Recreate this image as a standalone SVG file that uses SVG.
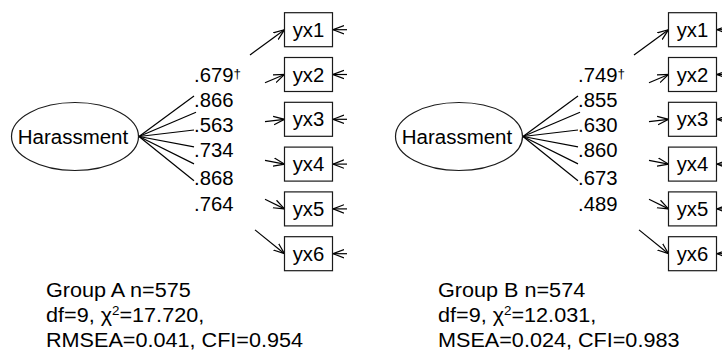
<svg xmlns="http://www.w3.org/2000/svg" width="722" height="354" viewBox="0 0 722 354">
  <style>
    .node-shape { fill: #fff; stroke: #1a1a1a; stroke-width: 1.2; }
    .edge { fill: none; stroke: #000; stroke-width: 1.2; }
    .arrow { fill: none; stroke: #000; stroke-width: 1.2; marker-end: url(#open-head); }
    .t { font-family: "Liberation Sans", Arial, Helvetica, sans-serif; font-size: 19.5px; fill: #000; }
    .mid { text-anchor: middle; }
    .fit { font-family: "Liberation Sans", Arial, Helvetica, sans-serif; font-size: 21px; fill: #000; }
    .sup { font-size: 13px; }
  </style>
  <defs>
    <marker id="open-head" viewBox="0 0 10 10" refX="10" refY="5" markerWidth="11" markerHeight="11" markerUnits="userSpaceOnUse" orient="auto">
      <path d="M0,1.2 L10,5 L0,8.8" fill="none" stroke="#000" stroke-width="1.1"/>
    </marker>
  </defs>

  <rect width="722" height="354" fill="#fff"/>

  <!-- Group A model -->
  <g id="groupA">
    <g id="connectorsA">
      <!-- loadings: factor to label gap, then label gap to indicator -->
      <line class="edge" x1="139" y1="136.5" x2="194" y2="96.1"/>
      <line class="arrow" x1="250" y1="55" x2="284.5" y2="29.7"/>
      <line class="edge" x1="139" y1="136.5" x2="196" y2="112.2"/>
      <line class="arrow" x1="265" y1="82.8" x2="284.5" y2="74.5"/>
      <line class="edge" x1="139" y1="136.5" x2="194" y2="130"/>
      <line class="arrow" x1="265" y1="121.6" x2="284.5" y2="119.3"/>
      <line class="edge" x1="139" y1="136.5" x2="194" y2="146.9"/>
      <line class="arrow" x1="265" y1="160.4" x2="284.5" y2="164.1"/>
      <line class="edge" x1="139" y1="136.5" x2="194" y2="163.9"/>
      <line class="arrow" x1="265" y1="199.2" x2="284.5" y2="208.9"/>
      <line class="edge" x1="139" y1="136.5" x2="194" y2="180.8"/>
      <line class="arrow" x1="255" y1="229.9" x2="284.5" y2="253.7"/>
      <!-- residual arrows -->
      <line class="arrow" x1="347" y1="29.7" x2="333" y2="29.7"/>
      <line class="arrow" x1="347" y1="74.5" x2="333" y2="74.5"/>
      <line class="arrow" x1="347" y1="119.3" x2="333" y2="119.3"/>
      <line class="arrow" x1="347" y1="164.1" x2="333" y2="164.1"/>
      <line class="arrow" x1="347" y1="208.9" x2="333" y2="208.9"/>
      <line class="arrow" x1="347" y1="253.7" x2="333" y2="253.7"/>
    </g>

    <g id="harassmentA">
      <ellipse class="node-shape" cx="75" cy="136.5" rx="63.5" ry="34"/>
      <text class="t mid" transform="translate(73 143.5) scale(1.05 1)">Harassment</text>
    </g>
    <g id="yx1A"><rect class="node-shape" x="284.5" y="12.7" width="48" height="34"/><text class="t mid" transform="translate(308.5 36.8) scale(1.04 1)">yx1</text></g>
    <g id="yx2A"><rect class="node-shape" x="284.5" y="57.5" width="48" height="34"/><text class="t mid" transform="translate(308.5 81.6) scale(1.04 1)">yx2</text></g>
    <g id="yx3A"><rect class="node-shape" x="284.5" y="102.3" width="48" height="34"/><text class="t mid" transform="translate(308.5 126.4) scale(1.04 1)">yx3</text></g>
    <g id="yx4A"><rect class="node-shape" x="284.5" y="147.1" width="48" height="34"/><text class="t mid" transform="translate(308.5 171.2) scale(1.04 1)">yx4</text></g>
    <g id="yx5A"><rect class="node-shape" x="284.5" y="191.9" width="48" height="34"/><text class="t mid" transform="translate(308.5 216) scale(1.04 1)">yx5</text></g>
    <g id="yx6A"><rect class="node-shape" x="284.5" y="236.7" width="48" height="34"/><text class="t mid" transform="translate(308.5 260.8) scale(1.04 1)">yx6</text></g>

    <g id="loadingsA">
      <text class="t" transform="translate(194 81.7) scale(1.04 1)">.679<tspan class="sup" dy="-4">†</tspan></text>
      <text class="t" transform="translate(194 106.7) scale(1.04 1)">.866</text>
      <text class="t" transform="translate(194 131.7) scale(1.04 1)">.563</text>
      <text class="t" transform="translate(194 157.3) scale(1.04 1)">.734</text>
      <text class="t" transform="translate(194 185.3) scale(1.04 1)">.868</text>
      <text class="t" transform="translate(194 210.5) scale(1.04 1)">.764</text>
    </g>

    <g id="fitA">
      <text class="fit" transform="translate(46 297) scale(1.03 1)">Group A n=575</text>
      <text class="fit" transform="translate(46 322) scale(1.03 1)">df=9, χ<tspan class="sup" dy="-7">2</tspan><tspan dy="7">=17.720,</tspan></text>
      <text class="fit" transform="translate(46 346.5) scale(1.03 1)">RMSEA=0.041, CFI=0.954</text>
    </g>
  </g>

  <!-- Group B model -->
  <g id="groupB">
    <g id="connectorsB">
      <line class="edge" x1="523" y1="136.5" x2="578" y2="96.1"/>
      <line class="arrow" x1="634" y1="55" x2="668.5" y2="29.7"/>
      <line class="edge" x1="523" y1="136.5" x2="580" y2="112.2"/>
      <line class="arrow" x1="649" y1="82.8" x2="668.5" y2="74.5"/>
      <line class="edge" x1="523" y1="136.5" x2="578" y2="130"/>
      <line class="arrow" x1="649" y1="121.6" x2="668.5" y2="119.3"/>
      <line class="edge" x1="523" y1="136.5" x2="578" y2="146.9"/>
      <line class="arrow" x1="649" y1="160.4" x2="668.5" y2="164.1"/>
      <line class="edge" x1="523" y1="136.5" x2="578" y2="163.9"/>
      <line class="arrow" x1="649" y1="199.2" x2="668.5" y2="208.9"/>
      <line class="edge" x1="523" y1="136.5" x2="578" y2="180.8"/>
      <line class="arrow" x1="639" y1="229.9" x2="668.5" y2="253.7"/>
      <line class="arrow" x1="731" y1="29.7" x2="717" y2="29.7"/>
      <line class="arrow" x1="731" y1="74.5" x2="717" y2="74.5"/>
      <line class="arrow" x1="731" y1="119.3" x2="717" y2="119.3"/>
      <line class="arrow" x1="731" y1="164.1" x2="717" y2="164.1"/>
      <line class="arrow" x1="731" y1="208.9" x2="717" y2="208.9"/>
      <line class="arrow" x1="731" y1="253.7" x2="717" y2="253.7"/>
    </g>

    <g id="harassmentB">
      <ellipse class="node-shape" cx="459" cy="136.5" rx="63.5" ry="34"/>
      <text class="t mid" transform="translate(457 143.5) scale(1.05 1)">Harassment</text>
    </g>
    <g id="yx1B"><rect class="node-shape" x="668.5" y="12.7" width="48" height="34"/><text class="t mid" transform="translate(692.5 36.8) scale(1.04 1)">yx1</text></g>
    <g id="yx2B"><rect class="node-shape" x="668.5" y="57.5" width="48" height="34"/><text class="t mid" transform="translate(692.5 81.6) scale(1.04 1)">yx2</text></g>
    <g id="yx3B"><rect class="node-shape" x="668.5" y="102.3" width="48" height="34"/><text class="t mid" transform="translate(692.5 126.4) scale(1.04 1)">yx3</text></g>
    <g id="yx4B"><rect class="node-shape" x="668.5" y="147.1" width="48" height="34"/><text class="t mid" transform="translate(692.5 171.2) scale(1.04 1)">yx4</text></g>
    <g id="yx5B"><rect class="node-shape" x="668.5" y="191.9" width="48" height="34"/><text class="t mid" transform="translate(692.5 216) scale(1.04 1)">yx5</text></g>
    <g id="yx6B"><rect class="node-shape" x="668.5" y="236.7" width="48" height="34"/><text class="t mid" transform="translate(692.5 260.8) scale(1.04 1)">yx6</text></g>

    <g id="loadingsB">
      <text class="t" transform="translate(578 81.7) scale(1.04 1)">.749<tspan class="sup" dy="-4">†</tspan></text>
      <text class="t" transform="translate(578 106.7) scale(1.04 1)">.855</text>
      <text class="t" transform="translate(578 131.7) scale(1.04 1)">.630</text>
      <text class="t" transform="translate(578 157.3) scale(1.04 1)">.860</text>
      <text class="t" transform="translate(578 185.3) scale(1.04 1)">.673</text>
      <text class="t" transform="translate(578 210.5) scale(1.04 1)">.489</text>
    </g>

    <g id="fitB">
      <text class="fit" transform="translate(438 297) scale(1.03 1)">Group B n=574</text>
      <text class="fit" transform="translate(438 322) scale(1.03 1)">df=9, χ<tspan class="sup" dy="-7">2</tspan><tspan dy="7">=12.031,</tspan></text>
      <text class="fit" transform="translate(438 346.5) scale(1.03 1)">MSEA=0.024, CFI=0.983</text>
    </g>
  </g>
</svg>
